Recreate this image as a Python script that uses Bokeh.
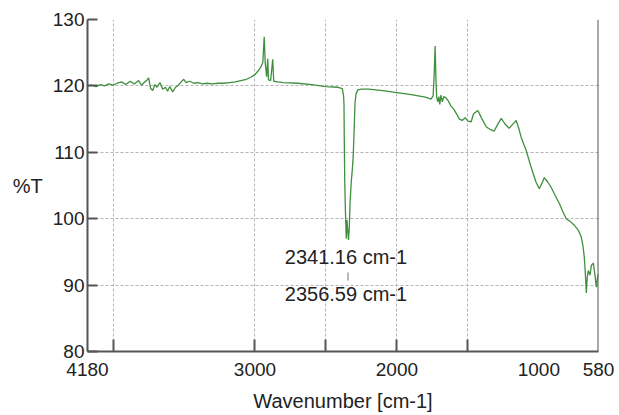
from bokeh.plotting import figure
from bokeh.models import Range1d, FixedTicker, Span, ColumnDataSource, LabelSet
from bokeh.core.properties import value
from bokeh.embed import file_html
from bokeh.resources import INLINE

# ---- data ----
wavenumber = [
    4180, 4150, 4120, 4090, 4060, 4030, 4000, 3970, 3940, 3910, 3880, 3850, 3820, 3800,
    3780, 3760, 3749, 3735, 3721, 3705, 3690, 3670, 3650, 3630, 3616, 3600, 3580, 3560,
    3540, 3520, 3502, 3485, 3460, 3430, 3400, 3370, 3340, 3300, 3260, 3220, 3180, 3140,
    3100, 3060, 3030, 3000, 2980, 2960, 2945, 2935, 2928, 2918, 2910, 2905, 2890, 2875,
    2868, 2840, 2800, 2700, 2600, 2500, 2420, 2385, 2376, 2373, 2371, 2368, 2364, 2360,
    2357, 2352, 2348, 2344, 2341, 2336, 2330, 2322, 2314, 2308, 2304, 2300, 2295, 2288,
    2275, 2250, 2200, 2100, 2000, 1900, 1800, 1760, 1745, 1737, 1731, 1725, 1720, 1712,
    1705, 1698, 1690, 1680, 1670, 1655, 1640, 1620, 1600, 1580, 1560, 1540, 1520, 1500,
    1477, 1460, 1430, 1400, 1370, 1340, 1315, 1290, 1265, 1240, 1210, 1185, 1160, 1140,
    1124, 1090, 1054, 1020, 997, 975, 962, 940, 913, 885, 856, 830, 807, 780, 750, 720,
    701, 690, 680, 672, 666, 660, 652, 640, 630, 616, 605, 595, 588, 580,
]
transmittance = [
    120.0, 120.1, 119.9, 120.2, 120.0, 120.3, 120.1, 120.4, 120.6, 120.2, 120.7, 120.3, 120.8, 120.1,
    120.5, 120.9, 121.2, 119.6, 119.3, 120.2, 119.8, 120.5, 119.5, 119.8, 119.2, 119.9, 119.1, 119.8,
    120.1, 120.6, 121.0, 120.5, 120.7, 120.4, 120.5, 120.3, 120.4, 120.3, 120.4, 120.4, 120.5, 120.6,
    120.8, 121.0, 121.3, 121.7, 122.2, 122.8, 123.5, 127.4, 123.5, 121.4, 124.1, 120.9, 120.8, 124.0,
    120.7, 120.6, 120.5, 120.4, 120.2, 119.9, 119.8, 119.6, 118.5, 117.2, 112.0, 106.0, 102.0, 99.0,
    97.0, 99.8, 98.5, 97.5, 96.8, 98.5, 102.5, 105.5, 107.5, 109.5, 111.8, 114.3, 117.5, 118.8,
    119.4, 119.5, 119.5, 119.3, 119.0, 118.7, 118.3, 118.0, 118.5, 122.0, 126.0, 121.0, 118.3, 117.6,
    118.4, 117.2, 118.6, 117.6, 118.4, 118.2, 117.8, 117.0, 116.5, 115.8, 115.0, 114.8, 115.2, 114.7,
    114.6, 115.8, 116.3, 115.0, 113.8, 113.4, 113.2, 114.2, 115.1, 114.3, 113.6, 114.2, 114.8, 113.5,
    112.2, 110.3, 107.7, 105.5, 104.5, 105.5, 106.2, 105.6, 104.7, 103.5, 102.3, 101.0, 100.0, 99.6, 99.0, 98.2,
    97.2, 96.0, 94.2, 91.5, 88.8, 91.0, 92.2, 91.5, 93.0, 93.3, 91.5, 89.7, 91.0, 91.7,
]

x_tick_values = [4180, 3000, 2000, 1000, 580]
x_grid_values = [4000, 3000, 2500, 2000, 1500]
y_tick_values = [80, 90, 100, 110, 120, 130]
y_grid_values = [90, 100, 110, 120, 130]

peak_labels = ["2341.16 cm-1", "2356.59 cm-1"]
peak_label_x = [2790, 2790]
peak_label_y = [94.2, 88.6]
leader_x = [2345, 2345]
leader_y = [90.7, 91.9]

FONT = "Liberation Sans"

# ---- figure ----
p = figure(width=619, height=415, output_backend="svg", toolbar_location=None,
           x_range=Range1d(4180, 580), y_range=Range1d(80, 130),
           min_border_left=87, min_border_top=19, min_border_right=21, min_border_bottom=64)
p.outline_line_color = None
p.background_fill_color = "white"
p.border_fill_color = "white"

p.line(wavenumber, transmittance, line_color="#3f8f3f", line_width=1.3)
p.line(leader_x, leader_y, line_color="#888888", line_width=1.2)

src = ColumnDataSource(dict(x=peak_label_x, y=peak_label_y, t=peak_labels))
p.add_layout(LabelSet(x="x", y="y", text="t", source=src, text_align="left",
                      text_baseline="middle", text_font=value(FONT),
                      text_font_size="20px", text_color="#222222"))

p.add_layout(Span(location=580, dimension="height", line_color="#555555", line_width=2))

# x axis
xa = p.xaxis[0]
xa.ticker = FixedTicker(ticks=x_tick_values, minor_ticks=x_grid_values)
xa.major_tick_in = 0
xa.major_tick_out = 0
xa.minor_tick_in = 12
xa.minor_tick_out = 0
xa.minor_tick_line_color = "#555555"
xa.minor_tick_line_width = 2
xa.axis_line_color = "#555555"
xa.axis_line_width = 2
xa.major_label_standoff = 11
xa.major_label_text_font = FONT
xa.major_label_text_font_size = "19px"
xa.major_label_text_color = "#222222"
xa.axis_label = "Wavenumber [cm-1]"
xa.axis_label_text_font = FONT
xa.axis_label_text_font_size = "20px"
xa.axis_label_text_font_style = "normal"
xa.axis_label_text_color = "#222222"
xa.axis_label_standoff = 11

# y axis
ya = p.yaxis[0]
ya.ticker = FixedTicker(ticks=y_tick_values)
ya.major_tick_in = 10
ya.major_tick_out = 0
ya.major_tick_line_color = "#555555"
ya.major_tick_line_width = 2
ya.minor_tick_line_color = None
ya.axis_line_color = "#555555"
ya.axis_line_width = 2
ya.major_label_standoff = 3
ya.major_label_text_font = FONT
ya.major_label_text_font_size = "19px"
ya.major_label_text_color = "#222222"
ya.axis_label = "%T"
ya.axis_label_orientation = "horizontal"
ya.axis_label_text_baseline = "top"
ya.axis_label_text_font = FONT
ya.axis_label_text_font_size = "20px"
ya.axis_label_text_font_style = "normal"
ya.axis_label_text_color = "#222222"
ya.axis_label_standoff = 7

p.xgrid.ticker = FixedTicker(ticks=x_grid_values)
p.ygrid.ticker = FixedTicker(ticks=y_grid_values)
for g in (p.xgrid, p.ygrid):
    g.grid_line_color = "#b5b5b5"
    g.grid_line_dash = "3 2"
    g.grid_line_width = 1

open("out.html", "w").write(file_html(p, INLINE))
